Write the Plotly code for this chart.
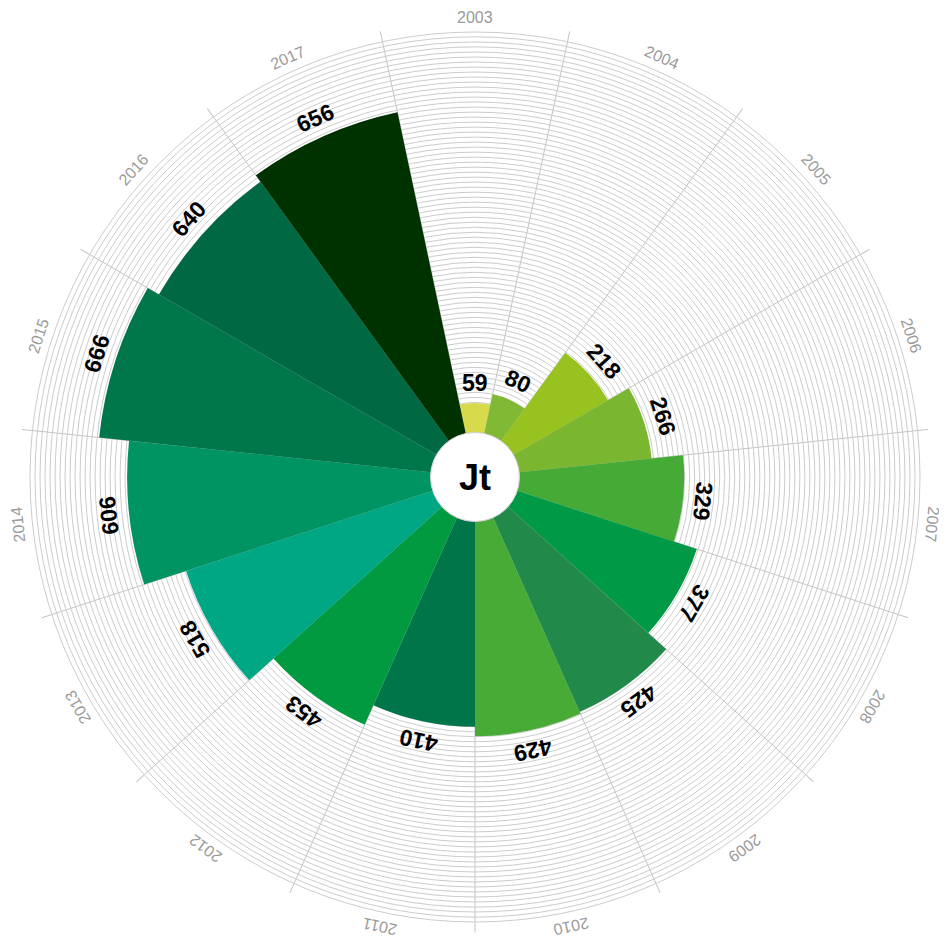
import math
import plotly.graph_objects as go

# ---- data ----
years = ["2003", "2004", "2005", "2006", "2007", "2008", "2009", "2010",
         "2011", "2012", "2013", "2014", "2015", "2016", "2017"]
values = [59, 80, 218, 266, 329, 377, 425, 429, 410, 453, 518, 606, 666, 640, 656]
colors = ["#d6da4b", "#80ba34", "#98c21f", "#7ab630", "#46ab36", "#009a47",
          "#21894a", "#47ab35", "#00754a", "#029a40", "#00a785", "#009462",
          "#00774a", "#006843", "#003200"]
center_text = "Jt"

# ---- geometry (page body has an 8px margin) ----
W, H = 939, 934
CX, CY = 467, 469          # polar centre in figure pixels (from top-left)
RADIUS = 445               # outer radius in pixels
HOLE = 0.1
RMAX = 800
step = 360 / len(years)
theta = [i * step for i in range(len(years))]
boundaries = [t + step / 2 for t in theta]
radial_grid = list(range(10, RMAX + 1, 10))

dom_x = [(CX - RADIUS) / W, (CX + RADIUS) / W]
dom_y = [(H - CY - RADIUS) / H, (H - CY + RADIUS) / H]


def r_px(v):
    return RADIUS * (HOLE + (1 - HOLE) * v / RMAX)


def to_paper(t_deg, rp):
    t = math.radians(t_deg)
    return (CX + rp * math.sin(t)) / W, (H - CY + rp * math.cos(t)) / H


def angle(t):
    return ((t + 180) % 360) - 180


fig = go.Figure()
fig.add_trace(go.Barpolar(
    r=values,
    theta=theta,
    width=[step] * len(years),
    marker=dict(color=colors, line=dict(width=0)),
    text=years,
    hovertemplate="%{text}: %{r}<extra></extra>",
))

annotations = []
for t, v in zip(theta, values):
    x, y = to_paper(t, r_px(v) + 20)
    annotations.append(dict(
        x=x, y=y, xref="paper", yref="paper", text=f"<b>{v}</b>",
        showarrow=False, xanchor="center", yanchor="middle",
        textangle=angle(t),
        font=dict(family="Liberation Sans, Arial, sans-serif", size=23, color="#000000"),
    ))
for t, yr in zip(theta, years):
    x, y = to_paper(t, RADIUS + 14)
    annotations.append(dict(
        x=x, y=y, xref="paper", yref="paper", text=yr,
        showarrow=False, xanchor="center", yanchor="middle",
        textangle=angle(t),
        font=dict(family="Liberation Sans, Arial, sans-serif", size=16, color="#9a9a9a"),
    ))
annotations.append(dict(
    x=CX / W, y=(H - CY) / H, xref="paper", yref="paper",
    text=f"<b>{center_text}</b>", showarrow=False,
    xanchor="center", yanchor="middle",
    font=dict(family="Liberation Sans, Arial, sans-serif", size=36, color="#000000"),
))

fig.update_layout(
    width=W, height=H,
    margin=dict(l=0, r=0, t=0, b=0),
    paper_bgcolor="white",
    showlegend=False,
    annotations=annotations,
    polar=dict(
        domain=dict(x=dom_x, y=dom_y),
        bgcolor="white",
        hole=HOLE,
        radialaxis=dict(
            range=[0, RMAX], tickmode="array", tickvals=radial_grid,
            showticklabels=False, ticks="",
            showline=False, gridcolor="#cccccc", gridwidth=1,
        ),
        angularaxis=dict(
            type="linear", direction="clockwise", rotation=90,
            tickmode="array", tickvals=boundaries, showticklabels=False,
            ticks="outside", ticklen=10, tickcolor="#c4c4c4", tickwidth=1,
            showline=True, linecolor="#cccccc", linewidth=1,
            gridcolor="#c4c4c4", gridwidth=1,
        ),
    ),
)

fig.write_html("out.html")
